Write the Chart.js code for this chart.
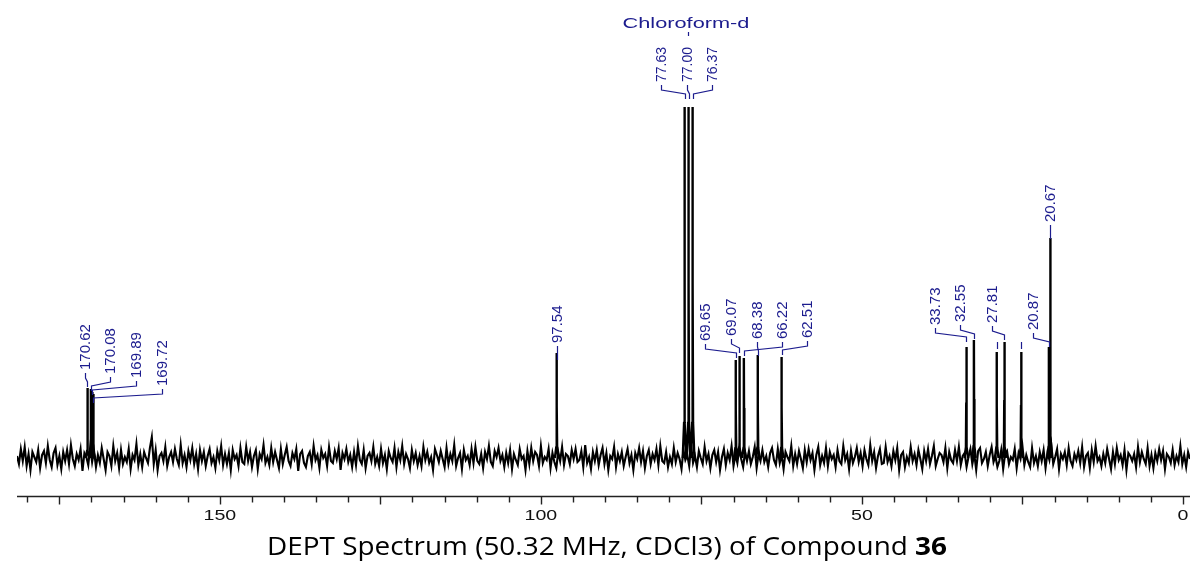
<!DOCTYPE html>
<html><head><meta charset="utf-8">
<script src="https://cdn.jsdelivr.net/npm/chart.js@4.4.1/dist/chart.umd.min.js"></script>
<style>html,body{margin:0;padding:0;background:#fff}canvas{display:block}</style>
</head><body>
<canvas id="c" width="1192" height="562"></canvas>
<script>
// ---- data ----
const noiseStart = 181.6;   // ppm of first noise sample
const noiseStep = 0.3;      // ppm between samples
const noise = [
2,-6,9,-3,11,-8,4,-12,6,1,
-4,8,-10,3,7,-5,12,-2,-9,5,
10,-7,2,-11,6,-3,8,-6,13,-1,
-8,4,-2,9,-13,5,1,-7,11,-4,
7,-9,3,-5,10,-1,-12,6,2,-8,
12,-3,5,-10,8,-6,1,-4,9,-11,
3,-2,14,-7,4,-9,6,0,-5,10,
21,-6,8,-12,2,5,-3,11,-8,1,
6,-4,9,-1,-7,13,-5,3,-9,7,
-2,10,-6,4,-11,8,-3,6,-8,2,
9,-5,1,-10,7,-2,12,-7,4,-6,
5,-12,8,-1,3,-8,10,-4,-6,11,
-3,6,-9,2,8,-11,4,-1,13,-5,
1,-7,10,-4,6,-2,-10,9,-6,3,
11,-3,-8,5,-1,9,-13,4,7,-5,
-9,2,6,-6,12,-2,3,-10,8,0,
4,-8,11,-3,-5,7,-1,10,-12,5,
-1,9,-4,3,-9,6,-7,12,-2,-6,
8,-10,2,5,-3,11,-6,1,-8,9,
-5,3,-11,7,0,-4,10,-9,6,-2,
12,-6,4,-1,-10,8,-3,5,-7,2,
-8,11,-2,6,-5,1,-12,9,3,-4,
7,-1,-9,10,-6,4,-3,13,-8,0,
5,-11,8,-2,2,-7,9,-5,11,-3,
-6,4,-10,6,-1,12,-4,-8,7,1,
10,-3,3,-9,5,-5,8,-11,4,-2,
-7,9,-1,2,-12,7,-6,10,-3,6,
3,-8,12,-5,1,-2,9,-10,5,-4,
-10,6,-3,11,-7,4,2,-6,8,-1,
9,-4,-2,7,-9,13,-5,1,-11,6,
-3,8,-7,3,10,-6,5,-12,2,-1,
11,-9,4,-3,6,-8,1,9,-5,3,
-12,5,-1,10,-4,7,-10,2,8,-6,
4,-2,9,-7,12,-3,-5,6,-9,1,
-6,10,-4,5,-1,-11,8,-2,3,-8,
13,-5,2,-9,7,0,-6,11,-3,4,
-10,3,8,-4,6,-12,1,9,-7,5,
-2,12,-8,3,-5,10,-1,-9,6,-3,
7,-6,1,11,-10,4,-3,8,-4,2,
-9,5,10,-2,-7,9,-5,3,-11,6,
1,-3,12,-8,4,-6,7,-1,-10,8,
-4,9,-2,5,-12,3,11,-7,2,-5,
10,-8,6,-1,3,-9,8,-3,-6,12,
-2,4,-11,7,-5,1,10,-4,5,-8,
8,-1,-7,13,-3,6,-10,2,9,-6,
-5,11,-4,2,-8,7,-2,10,-12,3,
6,-9,1,-5,11,-3,4,-7,8,-1,
-11,7,-3,9,-6,2,12,-8,-1,5,
3,-4,10,-10,6,-2,-5,8,-3,11,
-7,2,5,-9,1,9,-6,4,-12,7,
10,-5,-1,6,-8,3,11,-4,2,-9,
-3,8,-11,4,7,-6,1,-2,9,-10,
5,-1,12,-7,3,-4,-9,10,-5,2,
-8,6,-3,8,-10,5,-2,13,-6,1,
9,-11,4,-1,6,-7,10,-3,-8,4,
-2,7,-5,11,-9,2,5,-10,8,-4,
12,-3,1,-8,4,-5,9,-1,-11,6,
-6,10,-2,3,-7,8,-12,5,2,-3,
4,-9,11,-4,6,-1,-6,10,-8,3,
-10,5,-3,9,-2,7,-11,4,1,-5,
8,-7,2,-4,12,-6,3,-9,6,-1
];
const peakPpm    = [170.62,170.08,169.89,169.72,97.54,77.63,77.00,76.37,69.65,69.07,68.38,66.22,62.51,33.73,32.55,29.00,27.81,25.20,20.87,20.67];
const peakHeight = [70,69,66,64,105,351,351,351,98,102,100,103,101,111,118,106,116,106,111,220];
const peakLabels = ["170.62","170.08","169.89","169.72","97.54","77.63","77.00","76.37","69.65","69.07","68.38","66.22","62.51","33.73","32.55","","27.81","","20.87","20.67"];
const solventLabel = "Chloroform-d";
const tickLabels = [150,100,50,0];
const titleText = "DEPT Spectrum (50.32 MHz, CDCl3) of Compound ";
const titleBold = "36";

// ---- layout of the peak annotations (pixels) ----
const labelLayout = [
  {l:0,  lx:85,  by:370, p:0,  fs:15},
  {l:1,  lx:110, by:374, p:1,  fs:15},
  {l:2,  lx:136, by:378, p:2,  fs:15},
  {l:3,  lx:162, by:386, p:3,  fs:15},
  {l:4,  lx:557, by:343, p:4,  fs:15},
  {l:5,  lx:661, by:82,  p:5,  fs:14},
  {l:6,  lx:687, by:82,  p:6,  fs:14},
  {l:7,  lx:712, by:82,  p:7,  fs:14},
  {l:8,  lx:705, by:341, p:8,  fs:15},
  {l:9,  lx:731, by:336, p:9,  fs:15},
  {l:10, lx:757, by:339, p:11, fs:15},
  {l:11, lx:782, by:339, p:10, fs:15},
  {l:12, lx:807, by:338, p:12, fs:15},
  {l:13, lx:935, by:325, p:13, fs:15},
  {l:14, lx:960, by:322, p:14, fs:15},
  {l:16, lx:992, by:323, p:16, fs:15},
  {l:18, lx:1033,by:330, p:18, fs:15},
  {l:19, lx:1050,by:222, p:19, fs:15}
];
const stubLayout = [{p:15, y0:342, y1:349},{p:17, y0:342, y1:349}];

// ---- build datasets ----
const noisePts = noise.map((v,i)=>({x: noiseStart - i*noiseStep, y: v}));
const peakPts = [];
peakPpm.forEach((p,i)=>{
  const h = peakHeight[i];
  peakPts.push({x:p+0.28,y:0},{x:p+0.07,y:h*0.1},{x:p+0.02,y:h*0.5},{x:p,y:h},{x:p-0.02,y:h*0.5},{x:p-0.07,y:h*0.1},{x:p-0.28,y:0},{x:p-0.28,y:null});
});

const BLUE = '#1c1c8e';

const overlay = {
  id:'overlay',
  afterDatasetsDraw(chart){
    const ctx = chart.ctx, xs = chart.scales.x, ca = chart.chartArea;
    ctx.save();
    // axis
    const axisY = 496.5;
    ctx.strokeStyle = '#222'; ctx.lineWidth = 1.4;
    ctx.beginPath(); ctx.moveTo(ca.left, axisY); ctx.lineTo(ca.right, axisY); ctx.stroke();
    for (let v = 0; v <= 180; v += 5){
      const x = Math.round(xs.getPixelForValue(v)) + 0.5;
      const len = (v % 25 === 0) ? 8 : 6;
      ctx.beginPath(); ctx.moveTo(x, axisY); ctx.lineTo(x, axisY + len); ctx.stroke();
    }
    ctx.fillStyle = '#111';
    ctx.font = '14px "Liberation Sans", Arial, sans-serif';
    ctx.textAlign = 'center'; ctx.textBaseline = 'alphabetic';
    tickLabels.forEach(v=>{
      const x = xs.getPixelForValue(v);
      ctx.save(); ctx.translate(x, 520); ctx.scale(1.4, 1); ctx.fillText(String(v), 0, 0); ctx.restore();
    });

    // solvent label
    ctx.fillStyle = BLUE; ctx.strokeStyle = BLUE; ctx.lineWidth = 1.2;
    ctx.font = '15px "Liberation Sans", Arial, sans-serif';
    const sx = xs.getPixelForValue(peakPpm[6]);
    ctx.save(); ctx.translate(686, 28); ctx.scale(1.45, 1); ctx.fillText(solventLabel, 0, 0); ctx.restore();
    ctx.beginPath(); ctx.moveTo(Math.round(sx)-0.5, 32); ctx.lineTo(Math.round(sx)-0.5, 36); ctx.stroke();

    // peak labels
    labelLayout.forEach(L=>{
      const txt = peakLabels[L.l];
      const px = Math.round(xs.getPixelForValue(peakPpm[L.p])) + 0.5;
      const lx = Math.round(L.lx) + 0.5;
      ctx.save();
      ctx.font = L.fs + 'px "Liberation Sans", Arial, sans-serif';
      ctx.textAlign = 'left'; ctx.textBaseline = 'alphabetic';
      ctx.translate(L.lx, L.by); ctx.rotate(-Math.PI/2);
      ctx.fillText(txt, 0, L.fs*0.36);
      ctx.restore();
      ctx.beginPath();
      ctx.moveTo(lx, L.by + 3); ctx.lineTo(lx, L.by + 8);
      ctx.lineTo(px, L.by + 12); ctx.lineTo(px, L.by + 17);
      ctx.stroke();
    });
    stubLayout.forEach(S=>{
      const px = Math.round(xs.getPixelForValue(peakPpm[S.p])) + 0.5;
      ctx.beginPath(); ctx.moveTo(px, S.y0); ctx.lineTo(px, S.y1); ctx.stroke();
    });

    // title
    ctx.fillStyle = '#000';
    const fN = '25px "Open Sans", "Noto Sans", sans-serif';
    const fB = 'bold 25px "Open Sans", "Noto Sans", sans-serif';
    ctx.font = fN; const w1 = ctx.measureText(titleText).width;
    ctx.font = fB; const w2 = ctx.measureText(titleBold).width;
    const target = 680, k = target / (w1 + w2);
    ctx.save(); ctx.translate(607 - target/2, 555); ctx.scale(k, 1);
    ctx.textAlign = 'left';
    ctx.font = fN; ctx.fillText(titleText, 0, 0);
    ctx.font = fB; ctx.fillText(titleBold, w1, 0);
    ctx.restore();
    ctx.restore();
  }
};

new Chart(document.getElementById('c'), {
  type: 'line',
  data: {
    datasets: [
      {data: noisePts, borderColor:'#000', borderWidth:2.1, pointRadius:0, tension:0, order:2},
      {data: peakPts, borderColor:'#000', borderWidth:2.4, pointRadius:0, tension:0, spanGaps:false, order:1}
    ]
  },
  options: {
    responsive:false, animation:false, events:[],
    layout:{padding:{left:17, right:2, top:0, bottom:66}},
    plugins:{legend:{display:false}, tooltip:{enabled:false}, title:{display:false}},
    scales:{
      x:{type:'linear', reverse:true, min:-1.1, max:181.6, display:false},
      y:{type:'linear', min:-38, max:458, display:false}
    }
  },
  plugins:[overlay]
});
</script>
</body></html>
